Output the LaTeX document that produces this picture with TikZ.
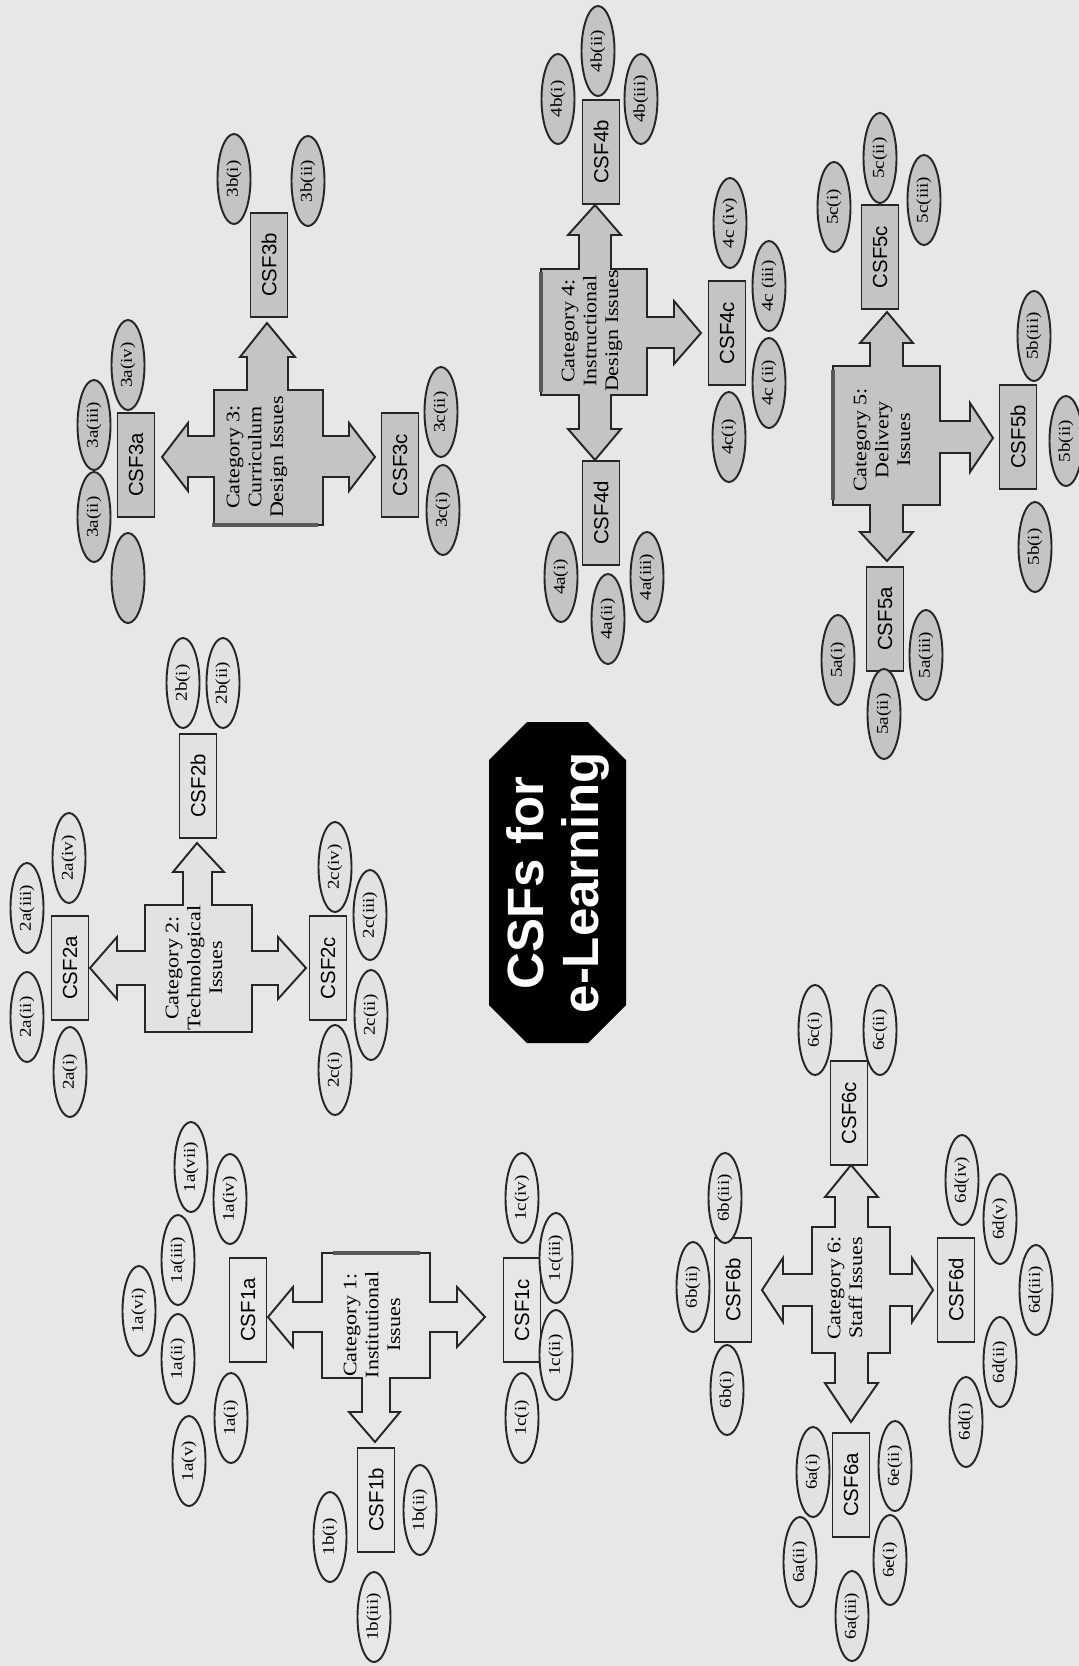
\documentclass[tikz,border=0pt]{standalone}
\usepackage{fontspec}
\setmainfont{Liberation Serif}
\setsansfont{Liberation Sans}
\newfontfamily\labelserif{Liberation Serif}[FakeStretch=1.15]
\usetikzlibrary{shapes.geometric}

\definecolor{pagebg}{HTML}{E7E7E7}
\definecolor{darkfill}{HTML}{C4C4C4}
\definecolor{lightfill}{HTML}{E2E2E2}

\begin{document}
\begin{tikzpicture}[
  x=0.01cm, y=-0.01cm,
  line width=0.55pt,
  subissue/.style={ellipse,draw=black!85,rotate=90,minimum width=0.9cm,minimum height=0.33cm,
    inner sep=0pt,font=\labelserif\fontsize{4.7}{5}\selectfont},
  csfbox/.style={rectangle,draw=black!85,rotate=90,minimum width=1.04cm,minimum height=0.37cm,
    inner sep=0pt,font=\sffamily\fontsize{5.8}{7}\selectfont},
  catshape/.style={draw=black!85,line join=miter},
  cattext/.style={rotate=90,align=center,inner sep=0pt,font=\labelserif\fontsize{5.45}{6.2}\selectfont},
  scanedge/.style={line width=1.2pt,black!65},
  hubtext/.style={rotate=90,inner sep=0pt,text=white,align=center,
    font=\sffamily\bfseries\fontsize{14.5}{15.5}\selectfont},
  dark/.style={fill=darkfill},
  light/.style={fill=lightfill},
  plain/.style={fill=pagebg}
]
  \fill[pagebg] (0,0) rectangle (1079,1666);
  \useasboundingbox (0,0) rectangle (1079,1666);

  % centre
  \fill[black] (527,722) -- (588,722) -- (626,760) -- (626,1005) -- (588,1043) -- (527,1043)
    -- (489,1005) -- (489,760) -- cycle;
  \node[hubtext] (hub) at (558,883) {CSFs for\\e-Learning};

  % Category 1
  \draw[catshape,plain] (322,1253) -- (430,1253) -- (430,1302) -- (457,1302) -- (457,1287) -- (485,1317)
    -- (457,1347) -- (457,1332) -- (430,1332) -- (430,1378) -- (390,1378) -- (390,1412) -- (400,1412)
    -- (375,1442) -- (349,1412) -- (362,1412) -- (362,1378) -- (322,1378) -- (322,1332) -- (293,1332)
    -- (293,1347) -- (268,1317) -- (293,1287) -- (293,1302) -- (322,1302) -- cycle;
  \draw[scanedge] (333,1253) -- (420,1253);
  \node[cattext] (cat1) at (372,1325) {Category 1:\\Institutional\\Issues};
  \node[csfbox,plain] (csf1a) at (248,1310) {CSF1a};
  \node[csfbox,plain] (csf1b) at (376,1500) {CSF1b};
  \node[csfbox,plain] (csf1c) at (522,1310) {CSF1c};
  \node[subissue,plain] (s1a7) at (191,1167) {1a(vii)};
  \node[subissue,plain] (s1a4) at (230,1199) {1a(iv)};
  \node[subissue,plain] (s1a3) at (178,1260) {1a(iii)};
  \node[subissue,plain] (s1a6) at (139,1311) {1a(vi)};
  \node[subissue,plain] (s1a2) at (178,1359) {1a(ii)};
  \node[subissue,plain] (s1a1) at (231,1418) {1a(i)};
  \node[subissue,plain] (s1a5) at (189,1461) {1a(v)};
  \node[subissue,plain] (s1b1) at (330,1537) {1b(i)};
  \node[subissue,plain] (s1b2) at (420,1510) {1b(ii)};
  \node[subissue,plain] (s1b3) at (374,1617) {1b(iii)};
  \node[subissue,plain] (s1c4) at (522,1198) {1c(iv)};
  \node[subissue,plain] (s1c3) at (556,1258) {1c(iii)};
  \node[subissue,plain] (s1c2) at (556,1355) {1c(ii)};
  \node[subissue,plain] (s1c1) at (522,1418) {1c(i)};

  % Category 2
  \draw[catshape,light] (145,905) -- (183,905) -- (183,872) -- (173,872) -- (197,843) -- (224,872)
    -- (212,872) -- (212,905) -- (252,905) -- (252,951) -- (278,951) -- (278,937) -- (306,968)
    -- (278,999) -- (278,985) -- (252,985) -- (252,1032) -- (145,1032) -- (145,985) -- (117,985)
    -- (117,999) -- (90,968) -- (117,937) -- (117,951) -- (145,951) -- cycle;
  \node[cattext] (cat2) at (194,968) {Category 2:\\Technological\\Issues};
  \node[csfbox,light] (csf2a) at (70,968) {CSF2a};
  \node[csfbox,light] (csf2b) at (198,786) {CSF2b};
  \node[csfbox,light] (csf2c) at (328,968) {CSF2c};
  \node[subissue,light] (s2a4) at (69,858) {2a(iv)};
  \node[subissue,light] (s2a3) at (27,908) {2a(iii)};
  \node[subissue,light] (s2a2) at (27,1017) {2a(ii)};
  \node[subissue,light] (s2a1) at (70,1072) {2a(i)};
  \node[subissue,light] (s2b1) at (183,683) {2b(i)};
  \node[subissue,light] (s2b2) at (223,683) {2b(ii)};
  \node[subissue,light] (s2c4) at (335,867) {2c(iv)};
  \node[subissue,light] (s2c3) at (370,915) {2c(iii)};
  \node[subissue,light] (s2c2) at (371,1015) {2c(ii)};
  \node[subissue,light] (s2c1) at (335,1070) {2c(i)};

  % Category 3
  \draw[catshape,dark] (214,390) -- (247,390) -- (247,357) -- (240,357) -- (267,323) -- (295,357)
    -- (288,357) -- (288,390) -- (323,390) -- (323,436) -- (349,436) -- (349,423) -- (375,457)
    -- (349,491) -- (349,477) -- (323,477) -- (323,525) -- (214,525) -- (214,477) -- (188,477)
    -- (188,491) -- (162,457) -- (188,423) -- (188,436) -- (214,436) -- cycle;
  \draw[scanedge] (212,525) -- (318,525);
  \node[cattext] (cat3) at (257,457) {Category 3:\\Curriculum\\Design Issues};
  \node[csfbox,dark] (csf3a) at (136,465) {CSF3a};
  \node[csfbox,dark] (csf3b) at (269,265) {CSF3b};
  \node[csfbox,dark] (csf3c) at (400,465) {CSF3c};
  \node[subissue,dark] (s3a4) at (128,365) {3a(iv)};
  \node[subissue,dark] (s3a3) at (94,425) {3a(iii)};
  \node[subissue,dark] (s3a2) at (94,517) {3a(ii)};
  \node[subissue,dark] (s3a0) at (128,578) {};
  \node[subissue,dark] (s3b1) at (234,179) {3b(i)};
  \node[subissue,dark] (s3b2) at (308,181) {3b(ii)};
  \node[subissue,dark] (s3c2) at (441,412) {3c(ii)};
  \node[subissue,dark] (s3c1) at (443,510) {3c(i)};

  % Category 4
  \draw[catshape,dark] (541,269) -- (579,269) -- (579,235) -- (568,235) -- (595,205) -- (621,235)
    -- (611,235) -- (611,269) -- (647,269) -- (647,317) -- (674,317) -- (674,301) -- (701,333)
    -- (674,364) -- (674,348) -- (647,348) -- (647,395) -- (611,395) -- (611,429) -- (621,429)
    -- (595,460) -- (568,429) -- (579,429) -- (579,395) -- (541,395) -- cycle;
  \draw[scanedge] (541,272) -- (541,392);
  \node[cattext] (cat4) at (592,331) {Category 4:\\Instructional\\Design Issues};
  \node[csfbox,dark] (csf4b) at (601,152) {CSF4b};
  \node[csfbox,dark] (csf4c) at (727,333) {CSF4c};
  \node[csfbox,dark] (csf4d) at (601,513) {CSF4d};
  \node[subissue,dark] (s4b1) at (558,99) {4b(i)};
  \node[subissue,dark] (s4b2) at (598,51) {4b(ii)};
  \node[subissue,dark] (s4b3) at (641,99) {4b(iii)};
  \node[subissue,dark] (s4c4) at (730,223) {4c (iv)};
  \node[subissue,dark] (s4c3) at (769,286) {4c (iii)};
  \node[subissue,dark] (s4c2) at (769,383) {4c (ii)};
  \node[subissue,dark] (s4c1) at (729,437) {4c(i)};
  \node[subissue,dark] (s4a1) at (561,577) {4a(i)};
  \node[subissue,dark] (s4a2) at (608,619) {4a(ii)};
  \node[subissue,dark] (s4a3) at (647,577) {4a(iii)};

  % Category 5
  \draw[catshape,dark] (833,366) -- (870,366) -- (870,343) -- (860,343) -- (887,312) -- (913,343)
    -- (903,343) -- (903,366) -- (940,366) -- (940,421) -- (970,421) -- (970,403) -- (993,438)
    -- (970,472) -- (970,453) -- (940,453) -- (940,505) -- (903,505) -- (903,532) -- (913,532)
    -- (887,561) -- (860,532) -- (870,532) -- (870,505) -- (833,505) -- cycle;
  \draw[scanedge] (833,370) -- (833,500);
  \node[cattext] (cat5) at (882,440) {Category 5:\\Delivery\\Issues};
  \node[csfbox,dark] (csf5a) at (885,619) {CSF5a};
  \node[csfbox,dark] (csf5b) at (1018,437) {CSF5b};
  \node[csfbox,dark] (csf5c) at (880,257) {CSF5c};
  \node[subissue,dark] (s5c1) at (834,207) {5c(i)};
  \node[subissue,dark] (s5c2) at (880,158) {5c(ii)};
  \node[subissue,dark] (s5c3) at (924,200) {5c(iii)};
  \node[subissue,dark] (s5b3) at (1034,336) {5b(iii)};
  \node[subissue,dark] (s5b2) at (1066,441) {5b(ii)};
  \node[subissue,dark] (s5b1) at (1035,547) {5b(i)};
  \node[subissue,dark] (s5a1) at (838,660) {5a(i)};
  \node[subissue,dark] (s5a2) at (884,714) {5a(ii)};
  \node[subissue,dark] (s5a3) at (926,655) {5a(iii)};

  % Category 6
  \draw[catshape,light] (812,1227) -- (835,1227) -- (835,1197) -- (825,1197) -- (851,1165) -- (878,1197)
    -- (868,1197) -- (868,1227) -- (890,1227) -- (890,1274) -- (912,1274) -- (912,1258) -- (933,1290)
    -- (912,1322) -- (912,1306) -- (890,1306) -- (890,1353) -- (868,1353) -- (868,1383) -- (878,1383)
    -- (851,1422) -- (825,1383) -- (835,1383) -- (835,1353) -- (812,1353) -- (812,1306) -- (783,1306)
    -- (783,1322) -- (762,1290) -- (783,1258) -- (783,1274) -- (812,1274) -- cycle;
  \node[cattext] (cat6) at (845,1288) {Category 6:\\Staff Issues};
  \node[csfbox,light] (csf6a) at (851,1485) {CSF6a};
  \node[csfbox,light] (csf6b) at (733,1290) {CSF6b};
  \node[csfbox,light] (csf6c) at (849,1113) {CSF6c};
  \node[csfbox,light] (csf6d) at (956,1290) {CSF6d};
  \node[subissue,light] (s6b3) at (725,1198) {6b(iii)};
  \node[subissue,light] (s6b2) at (693,1287) {6b(ii)};
  \node[subissue,light] (s6b1) at (727,1390) {6b(i)};
  \node[subissue,light] (s6c1) at (815,1030) {6c(i)};
  \node[subissue,light] (s6c2) at (880,1030) {6c(ii)};
  \node[subissue,light] (s6d4) at (962,1180) {6d(iv)};
  \node[subissue,light] (s6d5) at (1000,1219) {6d(v)};
  \node[subissue,light] (s6d3) at (1036,1290) {6d(iii)};
  \node[subissue,light] (s6d2) at (1000,1362) {6d(ii)};
  \node[subissue,light] (s6d1) at (966,1422) {6d(i)};
  \node[subissue,light] (s6a1) at (813,1472) {6a(i)};
  \node[subissue,light] (s6e2) at (895,1466) {6e(ii)};
  \node[subissue,light] (s6a2) at (800,1562) {6a(ii)};
  \node[subissue,light] (s6e1) at (890,1560) {6e(i)};
  \node[subissue,light] (s6a3) at (852,1616) {6a(iii)};
\end{tikzpicture}
\end{document}
